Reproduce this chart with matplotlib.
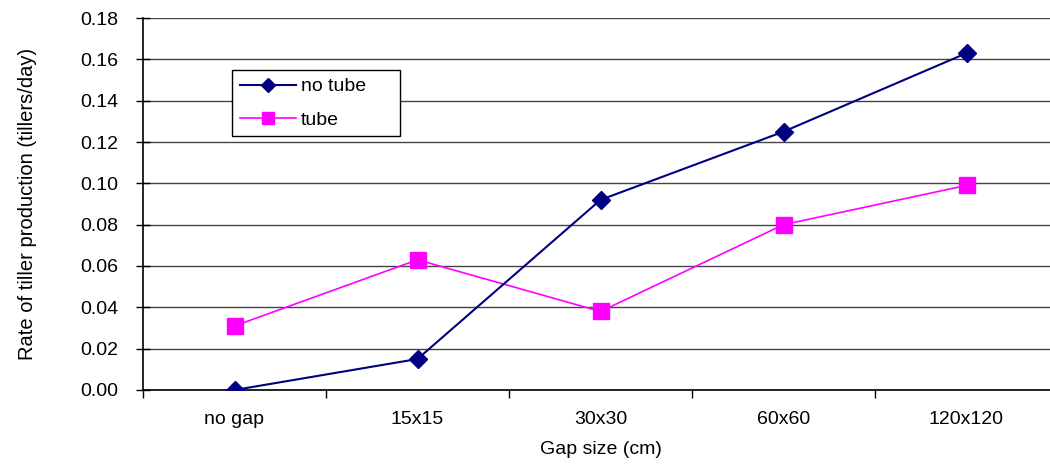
import matplotlib.pyplot as plt
import numpy as np

plt.rcParams['font.family'] = ['Liberation Sans', 'DejaVu Sans']

# gap size categories and rates (tillers/day)
categories = ["no gap", "15x15", "30x30", "60x60", "120x120"]
no_tube = [0.000, 0.015, 0.092, 0.125, 0.163]
tube = [0.031, 0.063, 0.038, 0.080, 0.099]
y_ticks = [0.00, 0.02, 0.04, 0.06, 0.08, 0.10, 0.12, 0.14, 0.16, 0.18]

W, H = 1050, 471
fig = plt.figure(figsize=(W / 100, H / 100), dpi=100)
# plot area runs past the right edge, like the original export
left, right, top, bottom = 143, 1058, 18, 390
ax = fig.add_axes([left / W, 1 - bottom / H, (right - left) / W, (bottom - top) / H])

x = np.arange(len(categories))
ax.plot(x, no_tube, color='#000080', marker='D', markersize=9.5, linewidth=1.5,
        label='no tube', zorder=4)
ax.plot(x, tube, color='#ff00ff', marker='s', markersize=11, linewidth=1.2,
        label='tube', zorder=3)

ax.set_xlim(-0.5, len(categories) - 0.5)
ax.set_ylim(0, 0.18)
ax.set_yticks(y_ticks)
ax.set_yticklabels([f"{v:.2f}" for v in y_ticks], fontsize=14)
ax.grid(axis='y', color='#444444', linewidth=1)
ax.set_axisbelow(True)

ax.set_xticks(x)
ax.set_xticklabels(categories, fontsize=14)
ax.set_xticks(np.arange(len(categories) + 1) - 0.5, minor=True)
ax.tick_params(axis='x', which='major', length=0, pad=15)
ax.tick_params(axis='x', which='minor', length=6, direction='out', width=1)
ax.tick_params(axis='y', length=10, direction='inout', width=1, pad=13)

for s in ['top', 'right']:
    ax.spines[s].set_visible(False)
ax.spines['left'].set_linewidth(1.2)
ax.spines['bottom'].set_linewidth(1.2)

ax.set_xlabel('Gap size (cm)', fontsize=14, va='top')
ax.xaxis.set_label_coords(0.5, -0.137)
ax.set_ylabel('Rate of tiller production (tillers/day)', fontsize=14.5)
ax.yaxis.set_label_coords(-0.116, 0.5)

leg = ax.legend(loc='upper left', bbox_to_anchor=(0.097, 0.691, 0.184, 0.169),
                mode='expand', borderaxespad=0, markerscale=0.8,
                fancybox=False, edgecolor='black', framealpha=1, fontsize=14,
                handlelength=2.9, handletextpad=0.25, borderpad=0.4,
                labelspacing=0.8)
leg.get_frame().set_linewidth(1)

fig.savefig('out.png', dpi=100)
